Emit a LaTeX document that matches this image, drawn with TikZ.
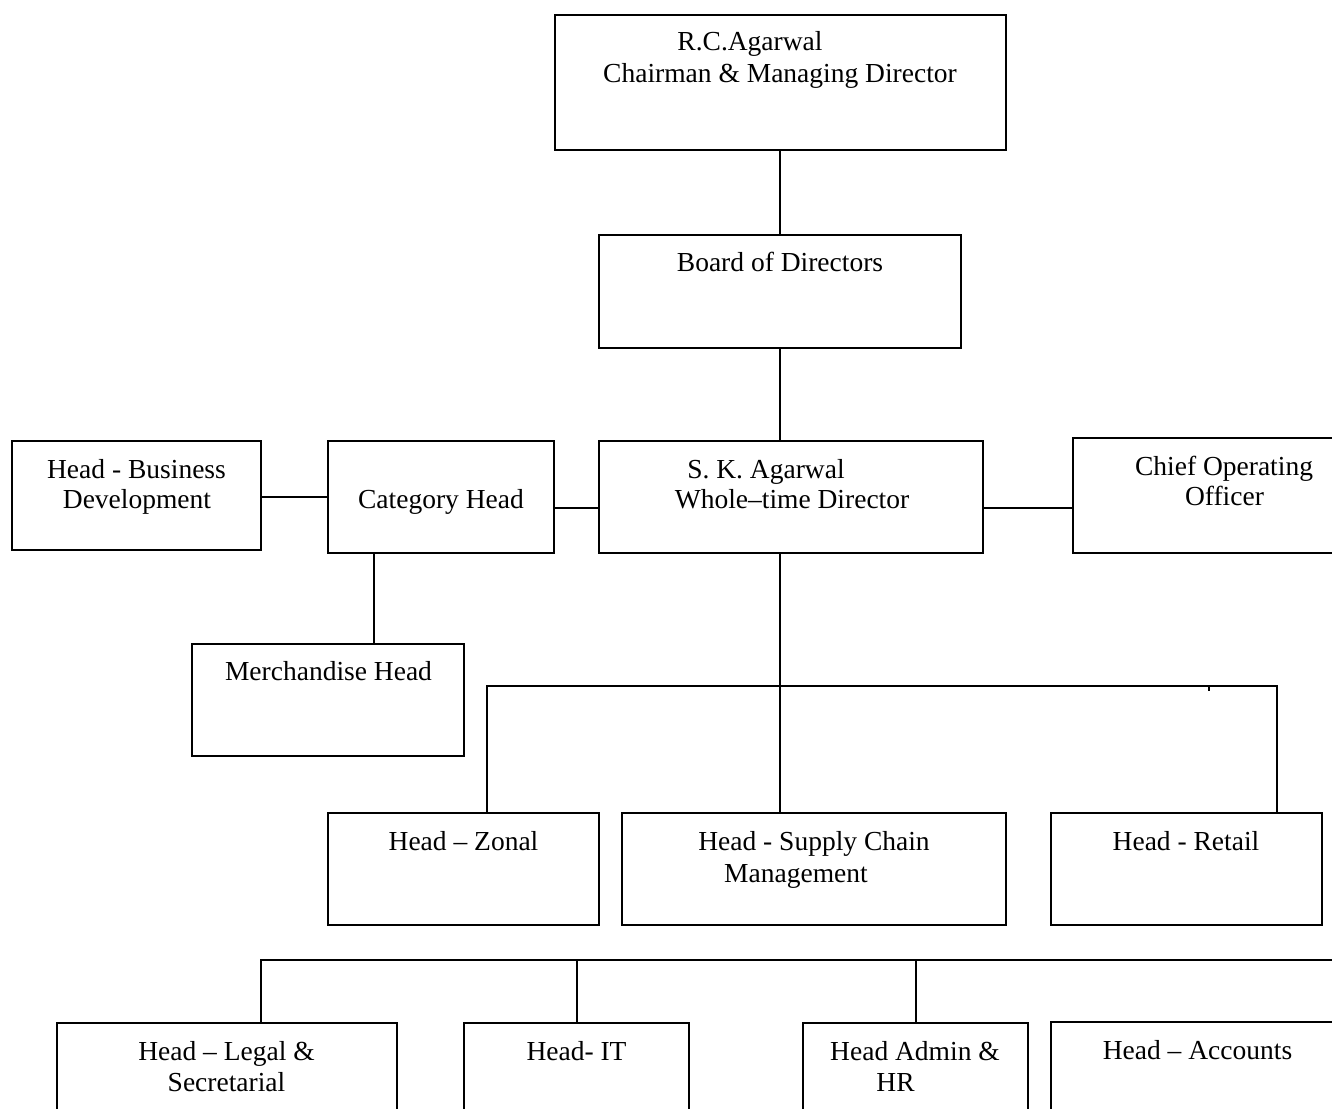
\documentclass[tikz,border=0pt]{standalone}
\usepackage{fontspec}
\setmainfont{Liberation Serif}
\begin{document}
\begin{tikzpicture}[x=1pt,y=-1pt,
  box/.style={draw=black,line width=1.8pt,rectangle,inner sep=0pt,outer sep=0pt},
  txt/.style={anchor=base,inner sep=0pt,font=\fontsize{27.5}{31}\selectfont},
  conn/.style={draw=black,line width=1.8pt}]
\useasboundingbox (0,0) rectangle (1332,1108);
\clip (0,0) rectangle (1332,1108);
% boxes: center x, center y, width, height
\node[box,minimum width=451pt,minimum height=135pt] (cmd) at (780.5,82.5) {};
\node[box,minimum width=362pt,minimum height=113pt] (bod) at (780,291.5) {};
\node[box,minimum width=384pt,minimum height=112pt] (sk) at (791,497) {};
\node[box,minimum width=226pt,minimum height=112pt] (cat) at (441,497) {};
\node[box,minimum width=249pt,minimum height=109pt] (bd) at (136.5,495.5) {};
\node[box,minimum width=272pt,minimum height=115pt] (coo) at (1209,495.5) {};
\node[box,minimum width=272pt,minimum height=112pt] (merch) at (328,700) {};
\node[box,minimum width=271pt,minimum height=112pt] (zonal) at (463.5,869) {};
\node[box,minimum width=384pt,minimum height=112pt] (scm) at (814,869) {};
\node[box,minimum width=271pt,minimum height=112pt] (retail) at (1186.5,869) {};
\node[box,minimum width=340pt,minimum height=110pt] (legal) at (227,1078) {};
\node[box,minimum width=225pt,minimum height=110pt] (it) at (576.5,1078) {};
\node[box,minimum width=225pt,minimum height=110pt] (admin) at (915.5,1078) {};
\node[box,minimum width=294pt,minimum height=110pt] (acc) at (1198,1077) {};
% texts
\node[txt] (t1) at (750,51) {R.C.Agarwal};
\node[txt] (t2) at (780,82) {Chairman \& Managing Director};
\node[txt] (t3) at (780,271) {Board of Directors};
\node[txt] (t4) at (766,478) {S. K. Agarwal};
\node[txt] (t5) at (792,508) {Whole–time Director};
\node[txt] (t6) at (441,508) {Category Head};
\node[txt] (t7) at (136.5,478) {Head - Business};
\node[txt] (t8) at (137,508) {Development};
\node[txt] (t9) at (1224,475) {Chief Operating};
\node[txt] (t10) at (1224.5,505) {Officer};
\node[txt] (t11) at (328.5,680) {Merchandise Head};
\node[txt] (t12) at (463.5,850) {Head – Zonal};
\node[txt] (t13) at (814,850) {Head - Supply Chain};
\node[txt] (t14) at (796,882) {Management};
\node[txt] (t15) at (1186,850) {Head - Retail};
\node[txt] (t16) at (226.5,1060) {Head – Legal \&};
\node[txt] (t17) at (226.5,1091) {Secretarial};
\node[txt] (t18) at (576.5,1060) {Head- IT};
\node[txt] (t19) at (915,1060) {Head Admin \&};
\node[txt] (t20) at (895.5,1091) {HR};
\node[txt] (t21) at (1197.5,1059) {Head – Accounts};
% connectors
\draw[conn] (cmd.south -| bod.north) -- (bod.north);
\draw[conn] (bod.south) -- (bod.south |- sk.north);
\draw[conn] ([yshift=-1.5pt]bd.east) -- ([yshift=-1.5pt]bd.east -| cat.west);
\draw[conn] ([yshift=-11pt]cat.east) -- ([yshift=-11pt]cat.east -| sk.west);
\draw[conn] ([yshift=-11pt]sk.east) -- ([yshift=-11pt]sk.east -| coo.west);
\draw[conn] ([xshift=-67pt]cat.south) -- ([xshift=-67pt]cat.south |- merch.north);
\coordinate (b1l) at (487,686);
\coordinate (b1r) at (1277,686);
\coordinate (tick) at (1209,691);
\draw[conn] (bod.south |- sk.south) -- (bod.south |- scm.north);
\draw[conn] (zonal.north -| b1l) |- (b1r) -- (retail.north -| b1r);
\draw[conn] (tick |- b1l) -- (tick);
\coordinate (b2l) at (261,960);
\coordinate (b2r) at (1345,960);
\coordinate (b2it) at (577,960);
\coordinate (b2ad) at (916,960);
\draw[conn] (legal.north -| b2l) |- (b2r);
\draw[conn] (b2it) -- (b2it |- it.north);
\draw[conn] (b2ad) -- (b2ad |- admin.north);
\end{tikzpicture}
\end{document}
